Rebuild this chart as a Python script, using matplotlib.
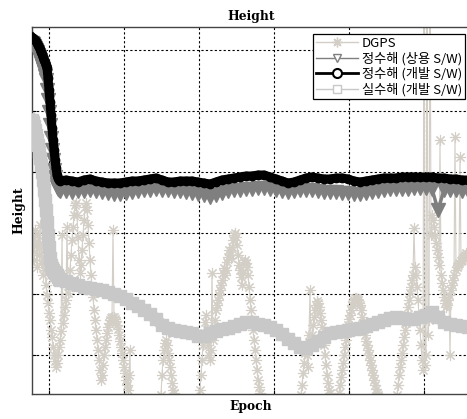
import numpy as np
import matplotlib
matplotlib.use('Agg')
import matplotlib.pyplot as plt
from matplotlib.lines import Line2D

# --- data (epoch, relative height) -------------------------------------
# DGPS is received in runs (one sample every 4 epochs); between runs the
# solution is off the plotted range
dgps_runs = [(232, 628), (744, 804), (896, 1148), (1304, 1428),
             (1456, 1620), (1688, 1972)]
dgps_h = [
    # run 1
    105, 118, 95, 125, 110, 88, 120, 100, 130, 92, 112, 80, 98, 85,
    70, 60, 52, 42, 35, 25, 18, 8, 0, -6, -12, -8,
    0, 8, 15, 24, 120, 32, 40, 48, 55, 128, 62, 70,
    85, 100, 115, 128, 140, 150, 152, 140, 118, 95,
    82, 90, 105, 120, 135, 148, 152, 145, 130, 112, 95, 80, 68, 58,
    45, 35, 25, 15, 5, -5, -15, -25,
    -20, -10, 0, 8, 15, 22, 28, 32, 35, 37, 38, 125,
    38, 36, 34, 30, 26, 20, 14, 8, 2, -5, -12, -18, -25, -30, -35, -20, 5, -80,
    # run 2
    -80, -40, -20, -5, 5, 12, 15, 10, 2, -5, -12, -20, -28, -35, -38, -80,
    # run 3
    -80, -45, -35, -20, -5, 10, 22, 33, 40, 25, 10, 0, -5, 5, 82, 15,
    25, 35, 45, 50, 55, 60, 65, 70, 75, 82, 87, 80, 85, 93, 98, 105,
    100, 97, 108, 115, 120, 122, 118, 110, 100, 90, 85, 78, 70, 82, 93, 95,
    92, 88, 80, 68, 55, 45, 35, 25, 15, 5, -5, -15, -25, -32, -38, -80,
    # run 4
    -80, -40, -30, -18, -8, 2, 10, 0, -12, 20, 65, 15, 20, 30, 38, 45,
    50, 54, 52, 48, 42, 35, 28, 20, 10, 0, -10, -20, -28, -35, -38, -80,
    # run 5
    -80, -38, -30, -22, -15, -8, 0, 8, 15, 22, 30, 36, 40, 45, 50, 53,
    55, 57, 57, 56, 55, 52, 50, 45, 38, 32, 26, 20, 14, 10, 5, 0,
    -5, -10, -15, -20, -25, -30, -34, -38, -40, -80,
    # run 6
    -80, -40, -30, -20, -12, -5, 2, 10, 18, 25, 32, 40, 48, 55, 62, 68, 75, 80,
    127, 88, 80, 68, 55, 40, 25, 10, -5, -15, 420, -10, 0, 450, 20, 35, 420,
    120, 140, 135, 128, 120, 112, 105, 98, 90, 215, 80, 72, 65, 58, 52, 48,
    50, 55, 60, 0,
    65, 70, 75, 80, 218, 85, 88, 90, 92, 198, 94, 95, 97, 98, 100, 102, 100,
]

# convergence part: one sample every 4 epochs
com_drop_epoch = np.arange(232, 341, 4)
dev_drop_epoch = np.arange(236, 341, 4)
com_drop = [312, 311, 309, 307, 305, 303, 300, 298, 295, 292, 289, 286, 283, 279,
            275, 265, 255, 243, 230, 217, 205, 195, 185, 178, 172, 168, 166, 165]
dev_drop = [317, 316, 315, 314, 312, 310, 308, 306, 303, 301, 298, 295, 293, 290,
            287, 277, 265, 253, 240, 227, 215, 205, 195, 187, 180, 177, 175]
flt_drop = [235, 233, 229, 225, 220, 215, 210, 203, 197, 190, 183, 175, 165, 155,
            145, 133, 120, 108, 97, 90, 87, 85, 83, 82, 81, 80, 78, 76]

# after convergence: one sample every 24 epochs
sol_epoch = np.arange(344, 1977, 24)
dev_fix = [174, 175, 174, 173, 175, 176, 174, 173, 172, 172,
           172, 173, 174, 174, 175, 176, 177, 175, 173, 173,
           174, 174, 174, 173, 172, 171, 173, 175, 176, 177,
           178, 179, 179, 180, 180, 178, 176, 174, 172, 173,
           175, 177, 178, 177, 176, 176, 177, 177, 176, 174,
           173, 174, 175, 176, 177, 177, 177, 178, 178, 178,
           178, 178, 178, 177, 177, 176, 176, 175, 175]
com_fix = [164, 164, 163, 164, 164, 165, 164, 163, 162, 161,
           161, 162, 163, 164, 165, 165, 166, 165, 165, 164,
           164, 163, 162, 161, 160, 158, 160, 162, 164, 165,
           165, 166, 166, 167, 167, 166, 165, 164, 163, 164,
           165, 165, 165, 164, 163, 163, 163, 162, 162, 161,
           161, 162, 163, 164, 165, 166, 166, 166, 166, 167,
           167, 167, 166, 145, 165, 165, 165, 164, 164]
dev_float = [75, 74, 72, 70, 68, 67, 66, 65, 63, 61,
             59, 56, 52, 49, 45, 41, 36, 30, 27, 25,
             24, 23, 22, 19, 19, 22, 24, 26, 27, 29,
             31, 33, 33, 31, 30, 28, 25, 21, 16, 12,
             8, 7, 10, 14, 18, 22, 23, 24, 25, 26,
             27, 29, 31, 33, 35, 37, 38, 37, 36, 36,
             38, 40, 43, 38, 33, 31, 30, 29, 28]

labels = ['DGPS', '정수해 (상용 S/W)', '정수해 (개발 S/W)', '실수해 (개발 S/W)']

C_DGPS = '#d3cfc7'
C_COM = '#7f7f7f'
C_DEV = '#000000'
C_FLT = '#c8c8c8'

dgps_epoch = np.concatenate([np.arange(a, b + 1, 4) for a, b in dgps_runs])
assert len(dgps_epoch) == len(dgps_h)

fig = plt.figure(figsize=(4.67, 4.19), dpi=100)
ax = fig.add_axes([32 / 467, 25 / 419, 438 / 467, 367 / 419])

ax.plot(dgps_epoch, dgps_h, color=C_DGPS, lw=0.8, marker=(8, 2, 0),
        ms=8, mew=0.8, mec=C_DGPS, zorder=2)
ax.plot(np.concatenate([com_drop_epoch, sol_epoch]), com_drop + com_fix,
        color=C_COM, lw=2.5, marker='v', ms=10, mfc=C_COM, mec=C_COM, zorder=3)
ax.plot(np.concatenate([dev_drop_epoch, sol_epoch]), dev_drop + dev_fix,
        color=C_DEV, lw=6.5, marker='o', ms=6, mfc=C_DEV, mec=C_DEV, zorder=4)
ax.plot(np.concatenate([com_drop_epoch, sol_epoch]), flt_drop + dev_float,
        color=C_FLT, lw=8.5, marker='s', ms=9, mfc=C_FLT, mec=C_FLT, zorder=5)

ax.set_xlim(232, 1984)
ax.set_ylim(-39, 328)
ax.set_xticks(np.arange(300, 1801, 300))
ax.set_yticks(np.arange(0, 306, 61))
ax.tick_params(direction='in', length=3, labelbottom=False, labelleft=False)
ax.grid(True, color='k', lw=0.8, ls=(0, (2, 2)))
ax.set_axisbelow(True)
for s in ax.spines.values():
    s.set_color('#444444')
    s.set_linewidth(1.0)

serif = {'family': 'DejaVu Serif', 'weight': 'bold', 'size': 8.8}
ax.set_title('Height', fontdict=serif, pad=5)
ax.set_xlabel('Epoch', fontdict=serif, labelpad=4)
ax.set_ylabel('Height', fontdict=serif, labelpad=5)

handles = [
    Line2D([], [], color=C_DGPS, lw=1, marker=(8, 2, 0), ms=7, mec=C_DGPS),
    Line2D([], [], color=C_COM, lw=1, marker='v', ms=6, mfc='white', mec=C_COM),
    Line2D([], [], color=C_DEV, lw=2, marker='o', ms=6.5, mfc='white', mec=C_DEV, mew=1.5),
    Line2D([], [], color=C_FLT, lw=1, marker='s', ms=5.5, mfc='white', mec=C_FLT),
]
leg = ax.legend(handles, labels, loc='upper right',
                bbox_to_anchor=(465 / 467, (419 - 34) / 419),
                bbox_transform=fig.transFigure, borderaxespad=0,
                prop={'family': ['Noto Sans CJK KR', 'DejaVu Sans'], 'size': 9.5},
                fancybox=False, framealpha=1, edgecolor='k',
                borderpad=0.2, labelspacing=0.15, handlelength=3.2,
                handletextpad=0.3)
leg.get_frame().set_linewidth(0.9)
leg.set_zorder(10)

fig.savefig('out.png', dpi=100)
